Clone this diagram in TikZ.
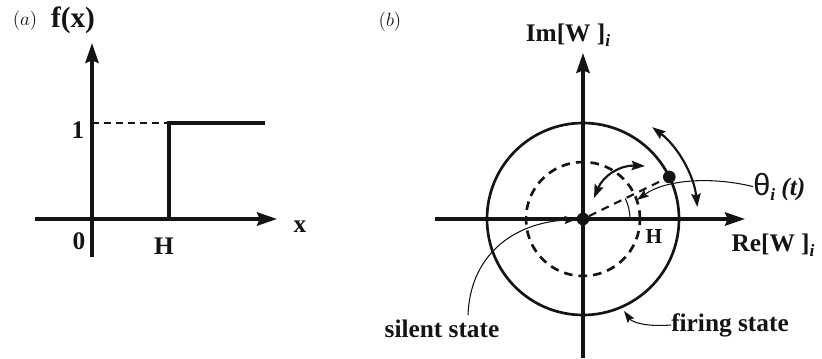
\documentclass[tikz,border=0pt]{standalone}
\usepackage{fontspec}
\setmainfont{Liberation Serif}
\newfontfamily\grkfont{Liberation Sans}
\usepackage{tikz}
\usetikzlibrary{arrows.meta,positioning,calc}
\definecolor{ink}{HTML}{141414}
\tikzset{
  axis/.style={draw=ink, line width=2.4pt, -{Stealth[length=15pt,width=10pt,inset=2pt]}},
  stepline/.style={draw=ink, line width=2.4pt},
  guide/.style={draw=ink, line width=1.1pt, dash pattern=on 5pt off 4pt},
  ring/.style={draw=ink, line width=2pt},
  dashring/.style={draw=ink, line width=2pt, dash pattern=on 6.5pt off 4.5pt},
  radial/.style={draw=ink, line width=1.6pt, dash pattern=on 6pt off 4.5pt},
  swing/.style={draw=ink, line width=1.6pt, {Stealth[length=10pt,width=7pt,inset=1.5pt]}-{Stealth[length=10pt,width=7pt,inset=1.5pt]}},
  pointer/.style={draw=ink, line width=0.8pt, -{Stealth[length=9pt,width=6pt,inset=1.5pt]}},
  dotc/.style={circle, fill=ink, inner sep=0pt, minimum size=9.5pt},
  lab/.style={text=ink, inner sep=0pt, font=\fontsize{19}{22}\selectfont\bfseries},
  tag/.style={text=ink, inner sep=0pt, font=\fontsize{14}{16}\selectfont}
}
\newcommand{\subi}{\raisebox{-0.45ex}{\fontsize{13}{13}\selectfont\bfseries\itshape i}}

\begin{document}
\begin{tikzpicture}[x=0.75pt,y=0.75pt]
  \useasboundingbox (0,0) rectangle (822,358);
  % (a) step function
  \coordinate (oa) at (92,139);
  \coordinate (xleft) at (35,139);
  \coordinate (xright) at (277,139);
  \coordinate (ybot) at (92,101);
  \coordinate (ytop) at (92,315);
  \coordinate (hbase) at (169,139);
  \coordinate (htop) at (169,235);
  \coordinate (stepend) at (265,235);
  \coordinate (onelevel) at (92,235);
  \draw[axis] (xleft) -- (xright);
  \draw[axis] (ybot) -- (ytop);
  \draw[guide] (onelevel) -- (htop);
  \draw[stepline] (hbase) -- (htop) -- (stepend);
  \node[tag] (taga) at (25,337) {$(a)$};
  \node[lab, font=\fontsize{22}{24}\selectfont\bfseries] (fx) at (73,338) {f(x)};
  \node[lab] (one) at (78,228) {1};
  \node[lab] (zero) at (79,117) {0};
  \node[lab] (ha) at (164,112) {H};
  \node[lab] (xlab) at (300,131) {x};

  % (b) phase plane
  \coordinate (c) at (583,139);
  \coordinate (releft) at (435,139);
  \coordinate (reright) at (745,139);
  \coordinate (imbot) at (583,0);
  \coordinate (imtop) at (583,305);
  \draw[axis] (releft) -- (reright);
  \draw[axis] (imbot) -- (imtop);
  \draw[ring] (c) circle[radius=96];
  \draw[dashring] (c) circle[radius=57];
  \node[dotc] (cdot) at (c) {};
  \node[dotc] (wpt) at ($(c)+(26:96)$) {};
  \draw[radial] (cdot) -- (wpt);
  \draw[draw=ink, line width=0.8pt] ($(c)+(0:47)$) arc[start angle=0, end angle=26, radius=47];
  \draw[swing] ($(c)+(6:115)$) arc[start angle=6, end angle=53, radius=115];
  \coordinate (swa) at (594,160);
  \coordinate (swb) at (645,192);
  \draw[swing] (swa) .. controls (603,182) and (620,193) .. (swb);

  \node[tag] (tagb) at (390,336) {$(b)$};
  \node[lab] (im) at (568,323) {Im[W~]\subi};
  \node[lab] (re) at (773,113) {Re[W~]\subi};
  \node[lab, font=\fontsize{16}{18}\selectfont\bfseries] (hb) at (654,121) {H};
  \node[lab, anchor=base west, font=\fontsize{19}{22}\selectfont] (theta) at (753,163)
    {{\grkfont\fontsize{23}{24}\selectfont θ}\subi\ \textbf{\textit{(t)}}};
  \node[lab] (silent) at (442,29) {silent state};
  \node[lab] (firing) at (730,33) {firing state};

  \coordinate (silentstart) at (468,43);
  \coordinate (thetatip) at (637,158);
  \coordinate (firingtip) at (624,47);
  \draw[pointer] (silentstart) .. controls (470,100) and (510,135) .. (cdot);
  \draw[pointer] (theta.west) .. controls (710,182) and (665,178) .. (thetatip);
  \draw[pointer] (firing.west) .. controls (645,31) and (632,36) .. (firingtip);
\end{tikzpicture}
\end{document}
